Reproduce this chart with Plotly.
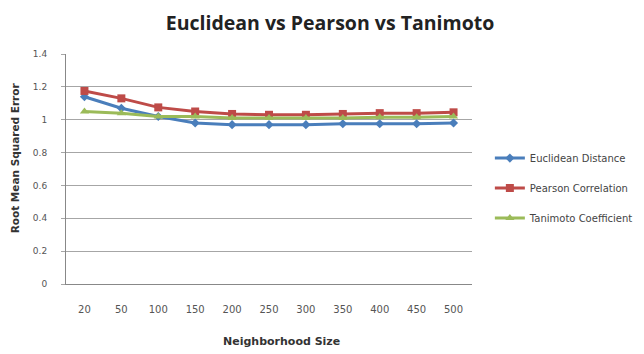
import plotly.graph_objects as go

categories = ["20", "50", "100", "150", "200", "250", "300", "350", "400", "450", "500"]
euclidean = [1.14, 1.07, 1.02, 0.98, 0.97, 0.97, 0.97, 0.975, 0.975, 0.975, 0.98]
pearson = [1.175, 1.13, 1.075, 1.05, 1.035, 1.03, 1.03, 1.035, 1.04, 1.04, 1.045]
tanimoto = [1.05, 1.04, 1.02, 1.02, 1.01, 1.01, 1.01, 1.01, 1.015, 1.015, 1.02]
y_ticks = [0, 0.2, 0.4, 0.6, 0.8, 1, 1.2, 1.4]

series = [
    ("Euclidean Distance", euclidean, "#4a7ebb", "diamond", 7),
    ("Pearson Correlation", pearson, "#be4b48", "square", 8),
    ("Tanimoto Coefficient", tanimoto, "#9bbb59", "triangle-up", 8),
]

fig = go.Figure()
for i, (name, vals, color, sym, size) in enumerate(series):
    fig.add_trace(go.Scatter(
        x=categories, y=vals, name=name, mode="lines+markers",
        line=dict(color=color, width=3),
        marker=dict(symbol=sym, size=size, color=color),
        legendgroup=f"g{i}",
    ))

fig.update_layout(
    width=644, height=354,
    margin=dict(l=58, r=180, t=46, b=78),
    paper_bgcolor="white", plot_bgcolor="white",
    title=dict(text="<b>Euclidean vs Pearson vs Tanimoto</b>", x=0.5, xanchor="center",
               y=0.958, yanchor="middle",
               font=dict(family="Open Sans, Liberation Sans, sans-serif", size=19.5, color="#222")),
    font=dict(family="DejaVu Sans, sans-serif", size=9, color="#555"),
    legend=dict(x=1.044, y=0.417, xanchor="left", yanchor="middle",
                font=dict(family="DejaVu Sans, sans-serif", size=10, color="#444"), tracegroupgap=11,
                bgcolor="rgba(0,0,0,0)"),
    xaxis=dict(
        type="category", range=[-0.5, 10.5],
        showline=True, linecolor="#888", linewidth=1,
        ticks="", ticklabelstandoff=16,
        showgrid=False,
        tickfont=dict(family="DejaVu Sans, sans-serif", size=10, color="#555"),
    ),
    yaxis=dict(
        range=[0, 1.4], tickvals=y_ticks, ticktext=[f"{v:g}" for v in y_ticks],
        showline=True, linecolor="#888", linewidth=1,
        ticks="outside", ticklen=4, tickcolor="#a6a6a6",
        showgrid=True, gridcolor="#a6a6a6", gridwidth=1,
        zeroline=False, ticklabelstandoff=12,
        tickfont=dict(family="DejaVu Sans, sans-serif", size=9, color="#555"),
    ),
    annotations=[
        dict(text="<b>Neighborhood Size</b>", xref="paper", yref="paper",
             x=0.53, y=-0.248, xanchor="center", yanchor="middle", showarrow=False,
             font=dict(family="DejaVu Sans, sans-serif", size=11, color="#333")),
        dict(text="<b>Root Mean Squared Error</b>", xref="paper", yref="paper",
             x=-0.126, y=0.55, xanchor="center", yanchor="middle", showarrow=False,
             textangle=-90,
             font=dict(family="DejaVu Sans, sans-serif", size=10.5, color="#333")),
    ],
)

fig.write_html("out.html")
